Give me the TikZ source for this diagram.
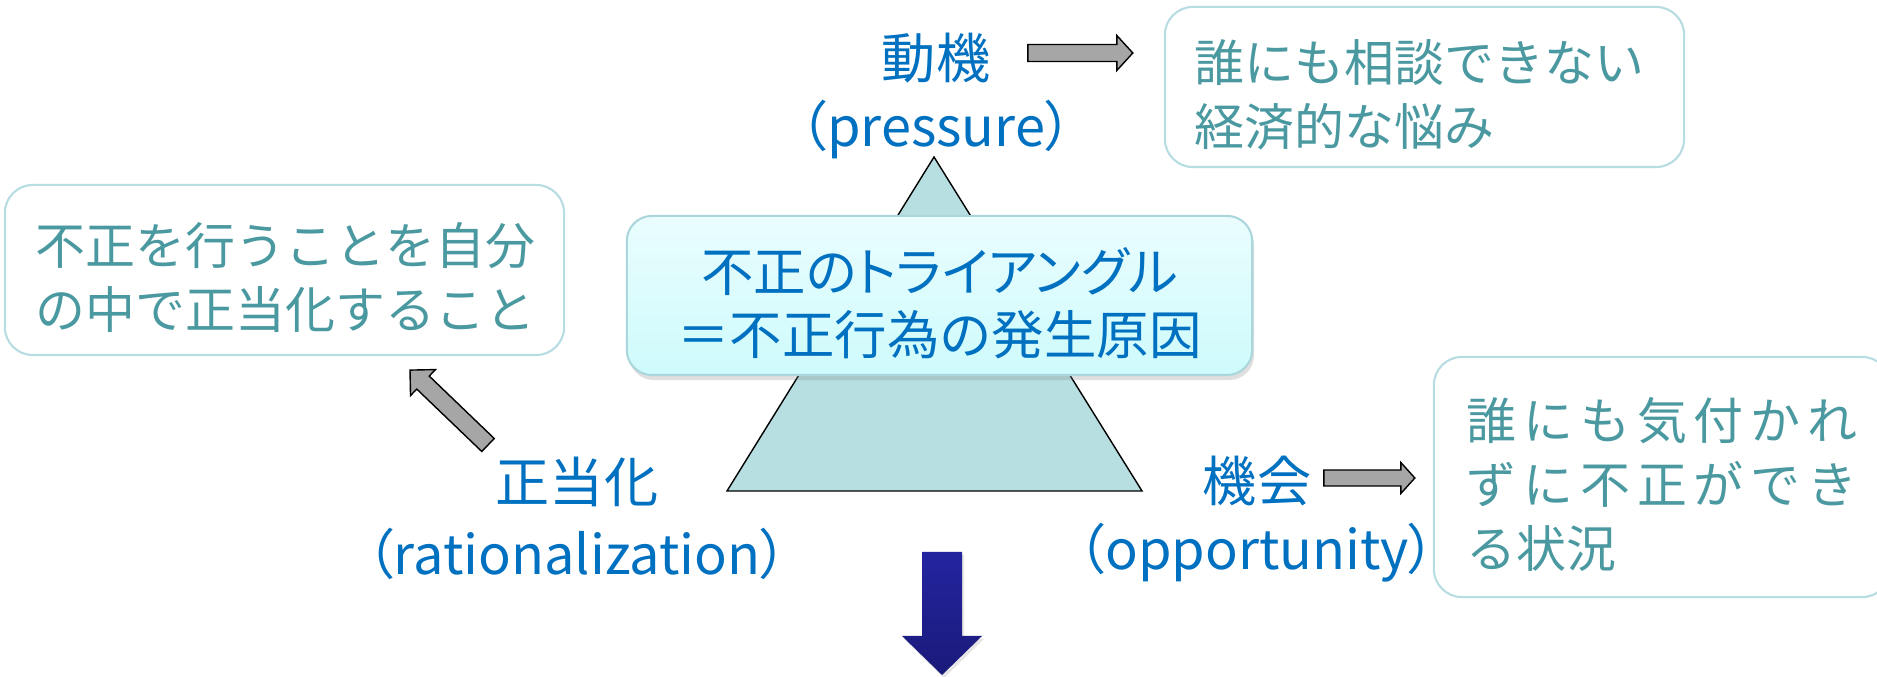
\documentclass[tikz,border=0pt]{standalone}
\usepackage{fontspec}
\setmainfont{Noto Sans CJK JP}
\newfontfamily\propfont[RawFeature=+palt]{Noto Sans CJK JP}
\usepackage{tikz}
\usetikzlibrary{calc, shadows}

\definecolor{labelblue}{RGB}{0,112,192}
\definecolor{boxteal}{RGB}{75,153,160}
\definecolor{boxline}{RGB}{183,221,226}
\definecolor{trifill}{RGB}{183,222,225}
\definecolor{arrgray}{RGB}{166,166,166}
\definecolor{titletop}{RGB}{234,253,254}
\definecolor{titlebot}{RGB}{206,251,252}
\definecolor{titleline}{RGB}{170,214,220}
\definecolor{downtop}{RGB}{36,36,160}
\definecolor{downbot}{RGB}{26,26,122}

\newcommand{\blockarr}[6]{%
  \coordinate (bh) at ($(#2)!#4!(#1)$);
  \draw[#6] ($(#1)!#3!90:(#2)$) -- ($(bh)!#3!90:(#2)$) -- ($(bh)!#5!90:(#2)$) -- (#2)
    -- ($(bh)!#5!-90:(#2)$) -- ($(bh)!#3!-90:(#2)$) -- ($(#1)!#3!-90:(#2)$) -- cycle;
}

\begin{document}
\begin{tikzpicture}[x=0.01cm,y=-0.01cm,inner sep=0pt,node distance=.715cm,
  lab/.style={text=labelblue,font=\fontsize{15.4pt}{18pt}\selectfont},
  labprop/.style={text=labelblue,font=\propfont\fontsize{15.4pt}{18pt}\selectfont},
  note/.style={draw=boxline,line width=.6pt,rounded corners=.28cm,text=boxteal,
    align=left,font=\fontsize{14.2pt}{18.2pt}\selectfont,
    execute at begin node={\rule{0pt}{.58cm}}},
  grayarr/.style={draw=black,line width=.4pt,fill=arrgray},
  tri/.style={draw=black,line width=.4pt,fill=trifill}]
\useasboundingbox (0,0) rectangle (1877,677);
\draw[tri] (727,491) -- (934,157) -- (1142,491) -- cycle;
\draw node [draw=titleline,line width=.6pt,rounded corners=.25cm,top color=titletop,bottom color=titlebot,
  drop shadow={opacity=.25,shadow xshift=.02cm,shadow yshift=-.05cm},
  minimum width=6.25cm,minimum height=1.59cm,align=center,text=labelblue,
  font=\fontsize{14.9pt}{17.9pt}\selectfont] (Title) at (939.5,295.5)
  {\rule{0pt}{.6cm}{\propfont 不正のトライアングル}\\＝不正行為の発生原因};
\draw node [lab] (Mot) at (936,58) {動機};
\draw node [labprop] [below of=Mot] (MotEn) {（pressure）};
\draw node [lab] (Rat) at (577,482) {正当化};
\draw node [labprop] [below of=Rat] (RatEn) {（rationalization）};
\draw node [lab] (Opp) at (1257,481) {機会};
\draw node [labprop] [below of=Opp] (OppEn) {（opportunity）};
\draw node [note,inner xsep=.3cm,text width=4.59cm,minimum height=1.6cm] (MotBox) at (1424.5,87)
  {誰にも相談できない\\経済的な悩み};
\draw node [note,inner xsep=.31cm,text width=4.97cm,minimum height=1.7cm] (RatBox) at (284.5,270)
  {不正を行うことを自分\\の中で正当化すること};
\draw node [note,inner xsep=.33cm,text width=3.9cm,minimum height=2.4cm] (OppBox) at (1662,477)
  {\makebox[3.9cm][s]{誰\hfill に\hfill も\hfill 気\hfill 付\hfill か\hfill れ}\\
   \makebox[3.9cm][s]{ず\hfill に\hfill 不\hfill 正\hfill が\hfill で\hfill き}\\
   る状況};
\coordinate (m1) at ($(Mot.east)+(37,-5)$);
\coordinate (m2) at ($(MotBox.west)+(-31,-34)$);
\blockarr{m1}{m2}{.085cm}{.16cm}{.175cm}{grayarr}
\coordinate (o1) at ($(Opp.east)+(12,-3)$);
\coordinate (o2) at ($(OppBox.west)+(-18,1)$);
\blockarr{o1}{o2}{.08cm}{.14cm}{.155cm}{grayarr}
\coordinate (r1) at ($(Rat.center)+(-89,-37)$);
\coordinate (r2) at ($(RatBox.south)+(125.5,14)$);
\blockarr{r1}{r2}{.09cm}{.18cm}{.18cm}{grayarr}
\coordinate (d1) at (942,552);
\coordinate (d2) at (942,675);
\blockarr{d1}{d2}{.2cm}{.39cm}{.4cm}{draw=none,top color=downtop,bottom color=downbot,
  drop shadow={opacity=.2,shadow xshift=.02cm,shadow yshift=-.03cm}}
\end{tikzpicture}
\end{document}
